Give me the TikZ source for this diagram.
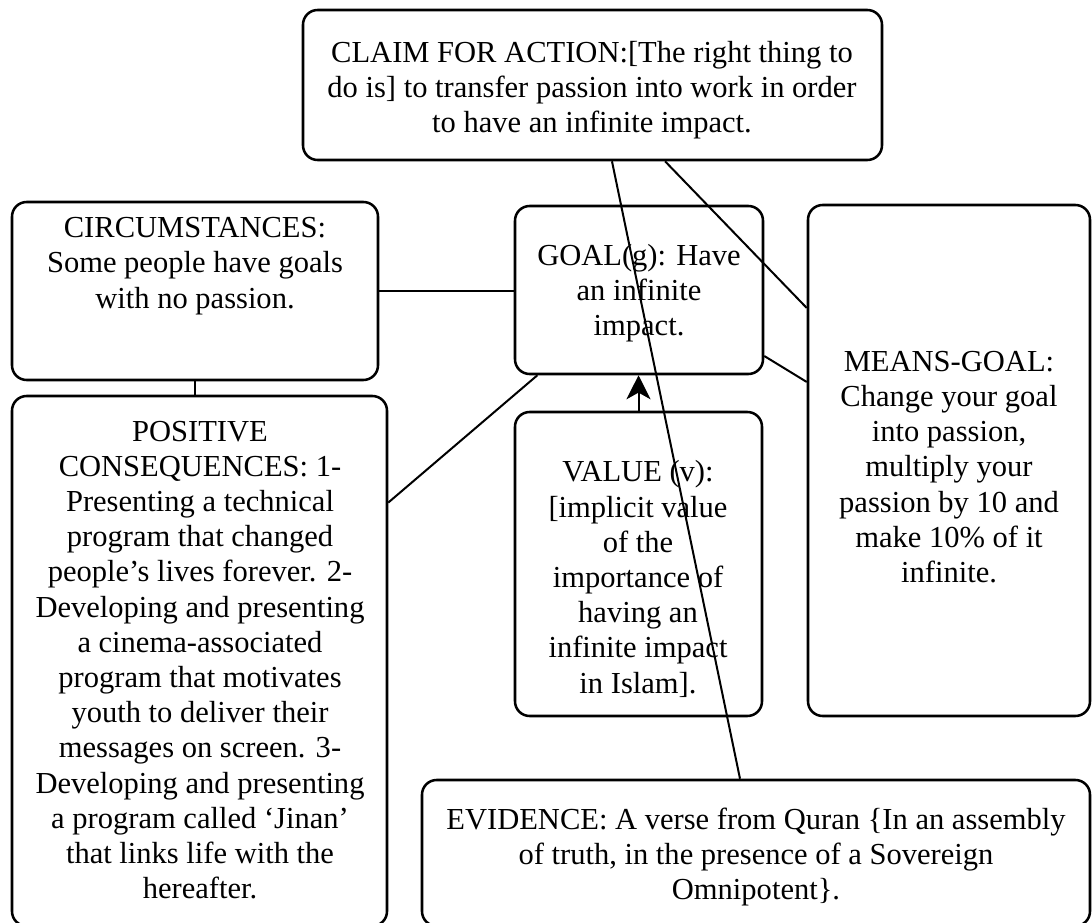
\documentclass[tikz,border=0pt]{standalone}
\usepackage{fontspec}
\setmainfont{Liberation Serif}
\usetikzlibrary{fit,arrows.meta}
\begin{document}
\begin{tikzpicture}[x=0.75pt,y=-0.75pt,
  box/.style={draw, line width=1.9pt, rounded corners=11pt, inner sep=0pt},
  txt/.style={align=center, font=\fontsize{22.9pt}{26.4pt}\selectfont, inner sep=0pt},
  link/.style={line width=1.5pt}]
\clip (0,0) rectangle (1092,923);

% boxes
\node[box, fit={(303,10) (882,160)}] (claim) {};
\node[box, fit={(12,202) (378,380)}] (circ) {};
\node[box, fit={(515,206) (763,374)}] (goal) {};
\node[box, fit={(808,205) (1090,716)}] (means) {};
\node[box, fit={(12,396) (387,926)}] (pos) {};
\node[box, fit={(515,412) (762,716)}] (value) {};
\node[box, fit={(422,780) (1090,926)}] (evid) {};

% texts
\node[txt] (claimtext) at (592,90) {CLAIM FOR ACTION:[The right thing to\\do is] to transfer passion into work in order\\to have an infinite impact.};
\node[txt] (circtext) at (195,266) {CIRCUMSTANCES:\\Some people have goals\\with no passion.};
\node[txt] (goaltext) at (639,293) {GOAL(g): Have\\an infinite\\impact.};
\node[txt] (meanstext) at (949,467) {MEANS-GOAL:\\Change your goal\\into passion,\\multiply your\\passion by 10 and\\make 10\% of it\\infinite.};
\node[txt] (postext) at (200,660) {POSITIVE\\CONSEQUENCES: 1-\\Presenting a technical\\program that changed\\people’s lives forever. 2-\\Developing and presenting\\a cinema-associated\\program that motivates\\youth to deliver their\\messages on screen. 3-\\Developing and presenting\\a program called ‘Jinan’\\that links life with the\\hereafter.};
\node[txt] (valuetext) at (638,579) {VALUE (v):\\{[}implicit value\\of the\\importance of\\having an\\infinite impact\\in Islam{]}.};
\node[txt] (evidtext) at (756,857) {EVIDENCE: A verse from Quran \{In an assembly\\of truth, in the presence of a Sovereign\\Omnipotent\}.};

% connectors
\draw[link] (circ.east) -- (circ.east -| goal.west);
\draw[link] (circ.south) -- (circ.south |- pos.north);
\draw[link] (pos.40.7) -- (goal.220.3);
\draw[link, -{Stealth[length=18pt,width=18pt,inset=5pt]}] (value.north) -- (value.north |- goal.south);
\draw[link] ([xshift=14.6pt]claim.south) -- ([xshift=-12pt]evid.north);
\draw[link] ([xshift=54.4pt]claim.south) -- ([yshift=114.4pt]means.west);
\draw[link] ([yshift=-49.5pt]goal.east) -- ([yshift=58.9pt]means.west);
\end{tikzpicture}
\end{document}
